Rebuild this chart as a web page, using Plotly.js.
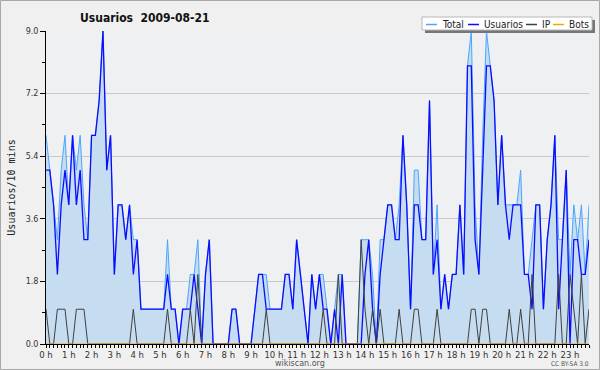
<!DOCTYPE html>
<html><head><meta charset="utf-8">
<script src="https://cdn.plot.ly/plotly-3.0.1.min.js"></script>
<style>
html,body{margin:0;padding:0;background:#f0f0f0;}
#chart{width:600px;height:370px;}
</style></head><body>
<div id="chart"></div>
<script>
// ---- data (one value per 10-minute slot, 144 slots) ----
const hourLabels = ['0 h','1 h','2 h','3 h','4 h','5 h','6 h','7 h','8 h','9 h','10 h','11 h',
  '12 h','13 h','14 h','15 h','16 h','17 h','18 h','19 h','20 h','21 h','22 h','23 h'];
const yTickVals = [0, 1.8, 3.6, 5.4, 7.2, 9.0];
const yTickText = ['0.0', '1.8', '3.6', '5.4', '7.2', '9.0'];
const seriesNames = ['Total', 'Usuarios', 'IP', 'Bots'];

const total = [6,5,4,3,5,6,4,6,5,6, 4,3,6,6,7,9,5,6,2,4, 4,3,4,3,3,1,1,1,1,1,
  1,1,3,1,1,0,1,1,2,2, 3,0,2,3,0,0,0,0,0,1, 1,0,0,0,0,1,2,2,2,1,
  1,1,1,2,2,1,3,2,1,0, 2,1,2,2,1,0,1,2,2,0, 0,0,0,3,3,3,2,0,3,3,
  4,4,3,4,6,4,1,5,5,3, 3,7,2,4,1,2,1,2,2,4, 2,8,9,4,2,6,9,8,7,4,
  6,4,4,4,4,5,2,2,3,4, 4,1,3,4,6,3,3,5,2,4, 3,4,2,4];
const usuarios = [5,5,4,2,4,5,4,6,4,5, 3,3,6,6,7,9,5,6,2,4, 4,3,4,2,3,1,1,1,1,1,
  1,1,2,1,1,0,1,1,1,2, 1,0,2,3,0,0,0,0,0,1, 1,0,0,0,0,1,2,2,1,1,
  1,1,1,2,2,1,3,2,1,0, 2,1,2,1,1,0,1,0,2,0, 0,0,0,0,2,3,1,0,2,3,
  4,4,3,3,6,4,1,4,4,3, 3,7,2,3,1,2,1,2,2,4, 2,8,8,3,2,5,8,8,7,4,
  6,4,3,4,4,4,2,2,1,4, 4,1,3,4,6,1,3,5,0,3, 3,2,2,3];
const ip = [1,0,0,1,1,1,0,0,1,1, 1,0,0,0,0,0,0,0,0,0, 0,0,0,1,0,0,0,0,0,0,
  0,0,1,0,0,0,0,0,1,0, 2,0,0,0,0,0,0,0,0,0, 0,0,0,0,0,0,0,0,1,0,
  0,0,0,0,0,0,0,0,0,0, 0,0,0,1,0,0,0,2,0,0, 0,0,0,3,1,0,1,0,1,0,
  0,0,0,1,0,0,0,1,1,0, 0,0,0,1,0,0,0,0,0,0, 0,0,1,1,0,1,1,0,0,0,
  0,0,1,0,0,1,0,0,2,0, 0,0,0,0,0,2,0,0,2,1, 0,2,0,1];
const bots = [0,0,0,0,0,0,0,0,0,0, 0,0,0,0,0,0,0,0,0,0, 0,0,0,0,0,0,0,0,0,0,
  0,0,0,0,0,0,0,0,0,0, 0,0,0,0,0,0,0,0,0,0, 0,0,0,0,0,0,0,0,0,0,
  0,0,0,0,0,0,0,0,0,0, 0,0,0,0,0,0,0,0,0,0, 0,0,0,0,0,0,0,0,0,0,
  0,0,0,0,0,0,0,0,0,0, 0,0,0,0,0,0,0,0,0,0, 0,0,0,0,0,0,0,0,0,0,
  0,0,0,0,0,0,0,0,0,0, 0,0,0,0,0,0,0,0,0,0, 0,0,0,0];

// ---- styling ----
const colors = ['#4aa6ff', '#0c0cff', '#404040', '#ffa500'];
const widths = [1, 1.3, 1, 1];
const slots = total.map((_, i) => i * 10);          // minutes of the day
const hourVals = hourLabels.map((_, h) => h * 60);
const seriesData = [total, usuarios, ip, bots];

const traces = seriesData.map((ys, k) => ({
  type: 'scatter', mode: 'lines', name: seriesNames[k],
  x: slots, y: ys,
  line: {color: colors[k], width: widths[k]},
  fill: k === 0 ? 'tozeroy' : 'none',
  fillcolor: '#c6dcf0',
  hoverinfo: 'skip', showlegend: false
}));

// pixel helpers for paper coordinates (plot area 46..589 x 31..344)
const X0 = 46, X1 = 589, Y0 = 344, Y1 = 31;
const px = x => (x - X0) / (X1 - X0);
const py = y => (Y0 - y) / (Y0 - Y1);

const condensed = '"DejaVu Sans Condensed", "Liberation Sans Narrow", "DejaVu Sans", sans-serif';
const legendLineX = [426, 468, 526, 553];
const legendY = 24.5;

const shapes = [
  {type: 'rect', xref: 'paper', yref: 'paper', x0: px(425), x1: px(595), y0: py(33), y1: py(20),
   fillcolor: '#767676', line: {width: 0}, layer: 'above'},
  {type: 'rect', xref: 'paper', yref: 'paper', x0: px(422), x1: px(592), y0: py(30), y1: py(17),
   fillcolor: '#ffffff', line: {color: '#b8b8b8', width: 1}, layer: 'above'},
  {type: 'rect', xref: 'paper', yref: 'paper', x0: px(0.5), x1: px(599.5), y0: py(369.5), y1: py(0.5),
   fillcolor: 'rgba(0,0,0,0)', line: {color: '#a8a8a8', width: 1}, layer: 'above'}
];
const annotations = [];
seriesNames.forEach((name, k) => {
  shapes.push({type: 'line', xref: 'paper', yref: 'paper',
    x0: px(legendLineX[k]), x1: px(legendLineX[k] + 11), y0: py(legendY), y1: py(legendY),
    line: {color: colors[k], width: 1.5}, layer: 'above'});
  annotations.push({xref: 'paper', yref: 'paper', x: px(legendLineX[k] + 14), y: py(legendY),
    xanchor: 'left', yanchor: 'middle', showarrow: false, text: name,
    font: {family: condensed, size: 10, color: '#222'}});
});
annotations.push({xref: 'paper', yref: 'paper', x: px(300), y: py(363.5), xanchor: 'center', yanchor: 'middle',
  showarrow: false, text: 'wikiscan.org', font: {family: '"DejaVu Sans", sans-serif', size: 8, color: '#555'}});
annotations.push({xref: 'paper', yref: 'paper', x: px(570), y: py(364), xanchor: 'center', yanchor: 'middle',
  showarrow: false, text: 'CC BY-SA 3.0', font: {family: condensed, size: 6.5, color: '#555'}});

const layout = {
  width: 600, height: 370,
  margin: {l: X0, r: 600 - X1, t: Y1, b: 370 - Y0, pad: 0},
  paper_bgcolor: '#f0f0f0', plot_bgcolor: '#eef0f2',
  showlegend: false,
  title: {text: '<b>Usuarios&nbsp; 2009-08-21</b>', x: px(80), xref: 'paper', xanchor: 'left',
          y: 1 - 17.5 / 370, yref: 'container', yanchor: 'middle',
          font: {family: condensed, size: 12, color: '#111'}},
  xaxis: {range: [0, 1430], tickmode: 'array', tickvals: hourVals, ticktext: hourLabels,
          ticks: 'outside', ticklen: 3, tickcolor: '#000', tickwidth: 1,
          showline: true, linecolor: '#000', linewidth: 1, showgrid: false, zeroline: false,
          tickfont: {family: '"DejaVu Sans", sans-serif', size: 8.5, color: '#333'},
          minor: {tick0: 0, dtick: 10, ticks: 'outside', ticklen: 3, tickcolor: '#000', showgrid: false},
          fixedrange: true},
  yaxis: {range: [0, 9], tickmode: 'array', tickvals: yTickVals, ticktext: yTickText,
          ticks: 'outside', ticklen: 5, tickcolor: '#000',
          showline: true, linecolor: '#000', linewidth: 1,
          showgrid: true, gridcolor: '#c9c9c9', gridwidth: 1, zeroline: false,
          tickfont: {family: '"DejaVu Sans", sans-serif', size: 8, color: '#333'},
          minor: {tick0: 0, dtick: 0.9, ticks: 'outside', ticklen: 3, tickcolor: '#000', showgrid: false},
          title: {text: 'Usuarios/10 mins', standoff: 8,
                  font: {family: '"DejaVu Sans Mono", monospace', size: 10, color: '#222'}},
          fixedrange: true},
  shapes: shapes,
  annotations: annotations
};

Plotly.newPlot('chart', traces, layout, {displayModeBar: false, staticPlot: true});
</script>
</body></html>
